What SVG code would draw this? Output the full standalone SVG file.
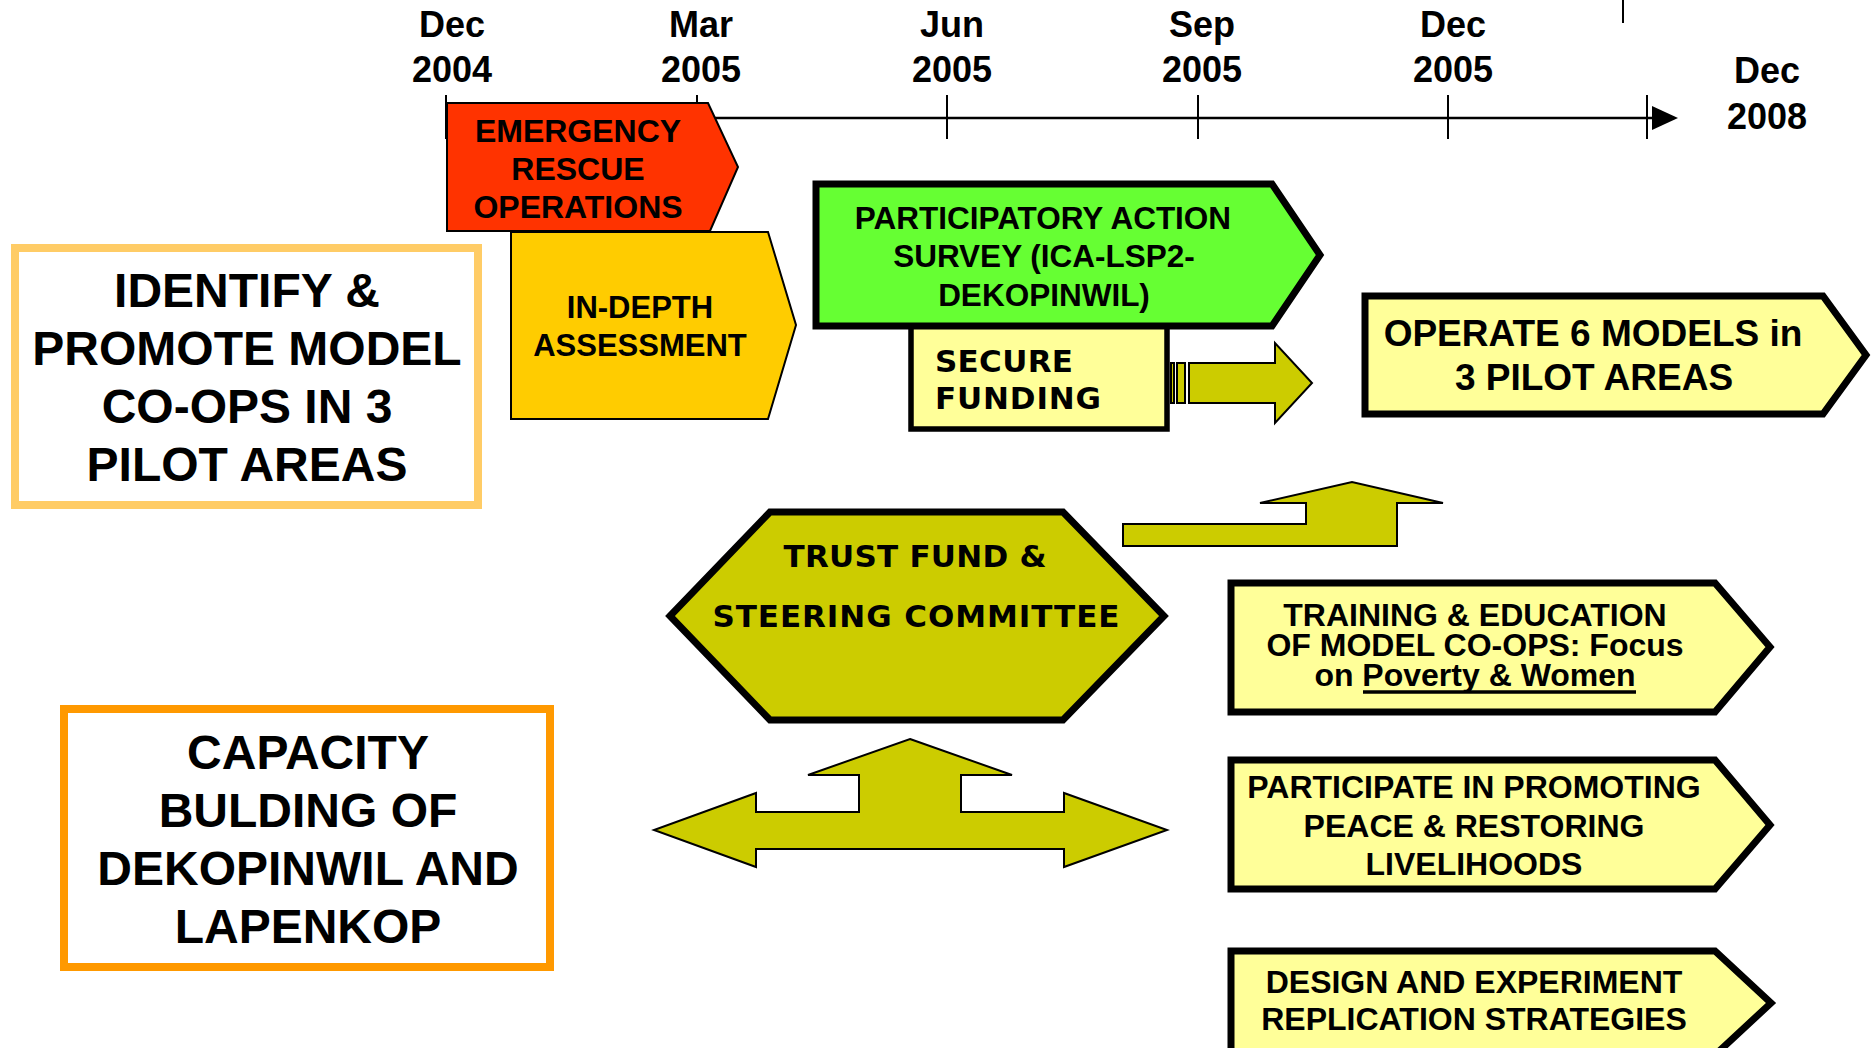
<svg xmlns="http://www.w3.org/2000/svg" width="1874" height="1048" viewBox="0 0 1874 1048">
<style>
.t{font-family:"Liberation Sans",Arial,sans-serif;font-weight:bold;fill:#000;text-anchor:middle}
.v{font-family:"DejaVu Sans",Verdana,sans-serif;font-weight:bold;fill:#000}
.tick{stroke:#000;stroke-width:2}
.thin{stroke:#000;stroke-width:2;stroke-linejoin:miter}
.thick{stroke:#000;stroke-width:7;stroke-linejoin:miter}
.olive{fill:#CCCC00;stroke:#000;stroke-width:2;stroke-linejoin:miter}
</style>
<rect width="1874" height="1048" fill="#fff"/>

<g id="timeline">
  <line x1="446" y1="118" x2="1654" y2="118" stroke="#000" stroke-width="2.5"/>
  <polygon points="1652,106 1678,118 1652,130" fill="#000"/>
  <line class="tick" x1="446" y1="95" x2="446" y2="139"/>
  <line class="tick" x1="697" y1="95" x2="697" y2="139"/>
  <line class="tick" x1="947" y1="95" x2="947" y2="139"/>
  <line class="tick" x1="1198" y1="95" x2="1198" y2="139"/>
  <line class="tick" x1="1448" y1="95" x2="1448" y2="139"/>
  <line class="tick" x1="1647" y1="95" x2="1647" y2="139"/>
  <line class="tick" x1="1623" y1="0" x2="1623" y2="23"/>
  <g class="t" font-size="36">
    <text x="452" y="37">Dec</text><text x="452" y="82">2004</text>
    <text x="701" y="37">Mar</text><text x="701" y="82">2005</text>
    <text x="952" y="37">Jun</text><text x="952" y="82">2005</text>
    <text x="1202" y="37">Sep</text><text x="1202" y="82">2005</text>
    <text x="1453" y="37">Dec</text><text x="1453" y="82">2005</text>
    <text x="1767" y="83">Dec</text><text x="1767" y="129">2008</text>
  </g>
</g>

<g id="in-depth-assessment">
  <polygon class="thin" fill="#FFCC00" points="511,232 768,232 796,325 768,419 511,419"/>
  <g class="t" font-size="31">
    <text x="640" y="318">IN-DEPTH</text>
    <text x="640" y="356">ASSESSMENT</text>
  </g>
</g>

<g id="emergency-rescue">
  <polygon class="thin" fill="#FF3300" points="447,103 708,103 738,167 710,231 447,231"/>
  <g class="t" font-size="32">
    <text x="578" y="142">EMERGENCY</text>
    <text x="578" y="180">RESCUE</text>
    <text x="578" y="218">OPERATIONS</text>
  </g>
</g>

<g id="identify-promote">
  <rect x="15" y="248" width="463" height="257" fill="#fff" stroke="#FFCC66" stroke-width="8"/>
  <g class="t" font-size="48">
    <text x="247" y="307">IDENTIFY &amp;</text>
    <text x="247" y="365">PROMOTE MODEL</text>
    <text x="247" y="423">CO-OPS IN 3</text>
    <text x="247" y="481">PILOT AREAS</text>
  </g>
</g>

<g id="capacity-building">
  <rect x="64" y="709" width="486" height="258" fill="#fff" stroke="#FF9900" stroke-width="8"/>
  <g class="t" font-size="48">
    <text x="308" y="769">CAPACITY</text>
    <text x="308" y="827">BULDING OF</text>
    <text x="308" y="885">DEKOPINWIL AND</text>
    <text x="308" y="943">LAPENKOP</text>
  </g>
</g>

<g id="secure-funding">
  <rect x="911" y="318" width="256" height="111" fill="#FFFF99" stroke="#000" stroke-width="5.5"/>
  <g class="v" font-size="31">
    <text x="935" y="372" textLength="138">SECURE</text>
    <text x="935" y="409" textLength="166">FUNDING</text>
  </g>
</g>

<g id="participatory-action-survey">
  <polygon class="thick" fill="#66FF33" points="816,184 1272,184 1320,255 1272,326 816,326"/>
  <g class="t" font-size="31.5">
    <text x="1043" y="229">PARTICIPATORY ACTION</text>
    <text x="1044" y="267">SURVEY (ICA-LSP2-</text>
    <text x="1044" y="306">DEKOPINWIL)</text>
  </g>
</g>

<g id="operate-models">
  <polygon class="thick" fill="#FFFF99" points="1365,296 1823,296 1866,355 1823,414 1365,414"/>
  <g class="t" font-size="37">
    <text x="1593" y="346">OPERATE 6 MODELS in</text>
    <text x="1594" y="390">3 PILOT AREAS</text>
  </g>
</g>

<g id="trust-fund">
  <polygon class="thick" stroke-width="8" fill="#CCCC00" points="670,616 770,512 1063,512 1164,616 1063,720 770,720"/>
  <g class="v" font-size="31" text-anchor="middle">
    <text x="915" y="567" textLength="263">TRUST FUND &amp;</text>
    <text x="916" y="627" textLength="407">STEERING COMMITTEE</text>
  </g>
</g>

<g id="training-education">
  <polygon class="thick" fill="#FFFF99" points="1231,583 1715,583 1770,647 1715,712 1231,712"/>
  <g class="t" font-size="32">
    <text x="1475" y="626">TRAINING &amp; EDUCATION</text>
    <text x="1475" y="656">OF MODEL CO-OPS: Focus</text>
    <text x="1475" y="686">on Poverty &amp; Women</text>
  </g>
  <line x1="1363" y1="692" x2="1636" y2="692" stroke="#000" stroke-width="3.5"/>
</g>

<g id="participate-peace">
  <polygon class="thick" fill="#FFFF99" points="1231,760 1715,760 1770,825 1715,889 1231,889"/>
  <g class="t" font-size="32">
    <text x="1474" y="798">PARTICIPATE IN PROMOTING</text>
    <text x="1474" y="837">PEACE &amp; RESTORING</text>
    <text x="1474" y="875">LIVELIHOODS</text>
  </g>
</g>

<g id="design-experiment">
  <polygon class="thick" fill="#FFFF99" points="1231,951 1715,951 1771,1003 1715,1055 1231,1055"/>
  <g class="t" font-size="32">
    <text x="1474" y="993">DESIGN AND EXPERIMENT</text>
    <text x="1474" y="1030">REPLICATION STRATEGIES</text>
  </g>
</g>

<g id="connectors">
  <rect class="olive" x="1171" y="363" width="3" height="40"/>
  <rect class="olive" x="1177" y="363" width="8" height="40"/>
  <polygon class="olive" points="1189,363 1275,363 1275,343 1312,383 1275,423 1275,403 1189,403"/>
  <polygon class="olive" points="1123,524 1306,524 1306,503 1260,503 1352,482 1443,503 1397,503 1397,546 1123,546"/>
  <polygon class="olive" points="910,739 1012,775 961,775 961,812 1064,812 1064,793 1167,830 1064,867 1064,849 756,849 756,867 654,830 756,793 756,812 859,812 859,775 808,775"/>
</g>
</svg>
